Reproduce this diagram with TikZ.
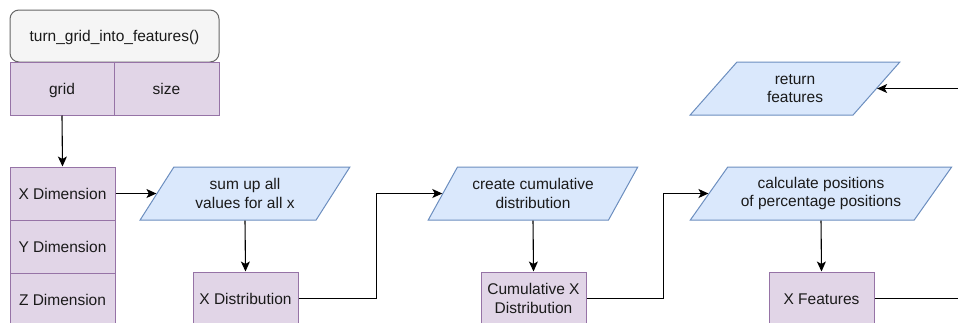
\documentclass[tikz,border=0pt]{standalone}
\usepackage{fontspec}
\setmainfont{Liberation Sans}
\usetikzlibrary{shapes.geometric,arrows.meta}

\definecolor{funcfill}{HTML}{F5F5F5}
\definecolor{funcline}{HTML}{666666}
\definecolor{fieldfill}{HTML}{E1D5E7}
\definecolor{fieldline}{HTML}{9673A6}
\definecolor{iofill}{HTML}{DAE8FC}
\definecolor{ioline}{HTML}{6C8EBF}
\definecolor{textcol}{HTML}{1A1A1A}

\tikzset{
  oneline/.style={text height=11.6pt, text depth=0pt},
  func/.style={draw=funcline, fill=funcfill, line width=1pt, rounded corners=9pt,
    minimum width=209pt, minimum height=52pt, oneline},
  field/.style={draw=fieldline, fill=fieldfill, line width=1pt, align=center,
    minimum width=105pt, minimum height=53pt, inner sep=2pt},
  io/.style={trapezium, trapezium stretches=true, trapezium left angle=#1,
    trapezium right angle=180-#1, draw=ioline, fill=iofill, line width=1pt,
    align=center, minimum height=53pt, inner sep=0pt},
  flow/.style={draw=black, line width=1.1pt, -{Stealth[length=10pt,width=9pt,inset=2.5pt]}},
}

\begin{document}
\begin{tikzpicture}[x=1pt, y=-1pt, font=\fontsize{15.5}{18.3}\selectfont, text=textcol]
            \useasboundingbox (0,0) rectangle (958,322);
            \clip (0,0) rectangle (958,322);

            % Define nodes
            \node[func] (func) at (114.5,36) {turn\_grid\_into\_features()};
            \node[field, oneline, minimum width=104pt] (grid) at (62,88.5) {grid};
            \node[field, oneline] (size) at (166.5,88.5) {size};

            \node[field, oneline] (xdim) at (62.5,193.5) {X Dimension};
            \node[field, oneline] (ydim) at (62.5,246.5) {Y Dimension};
            \node[field, oneline] (zdim) at (62.5,299.5) {Z Dimension};

            \node[io=51.6, minimum width=210pt] (sum) at (245,193.5) {sum up all\\values for all x};
            \node[field, oneline] (xdist) at (245.5,298.5) {X Distribution};

            \node[io=51.6, minimum width=210pt] (cum) at (533,193.5) {create cumulative\\distribution};
            \node[field] (cumx) at (533.5,298.5) {Cumulative X\\Distribution};

            \node[io=45.5, minimum width=262pt] (calc) at (821,193.5) {calculate positions\\of percentage positions};
            \node[field, oneline] (xfeat) at (821.5,298.5) {X Features};

            \node[io=51.6, minimum width=210pt] (ret) at (795,88.5) {return\\features};

            % Draw edges
            \draw[flow] (grid.south) -- (xdim.north);
            \draw[flow] (xdim.east) -- (sum.left side);
            \draw[flow] (sum.south) -- (xdist.north);
            \draw[flow] (xdist.east) -- ++(78,0) |- (cum.left side);
            \draw[flow] (cum.south) -- (cumx.north);
            \draw[flow] (cumx.east) -- ++(77,0) |- (calc.left side);
            \draw[flow] (calc.south) -- (xfeat.north);
            \draw[flow] (xfeat.east) -- ++(110,0) |- (ret.right side);

        \end{tikzpicture}
\end{document}
